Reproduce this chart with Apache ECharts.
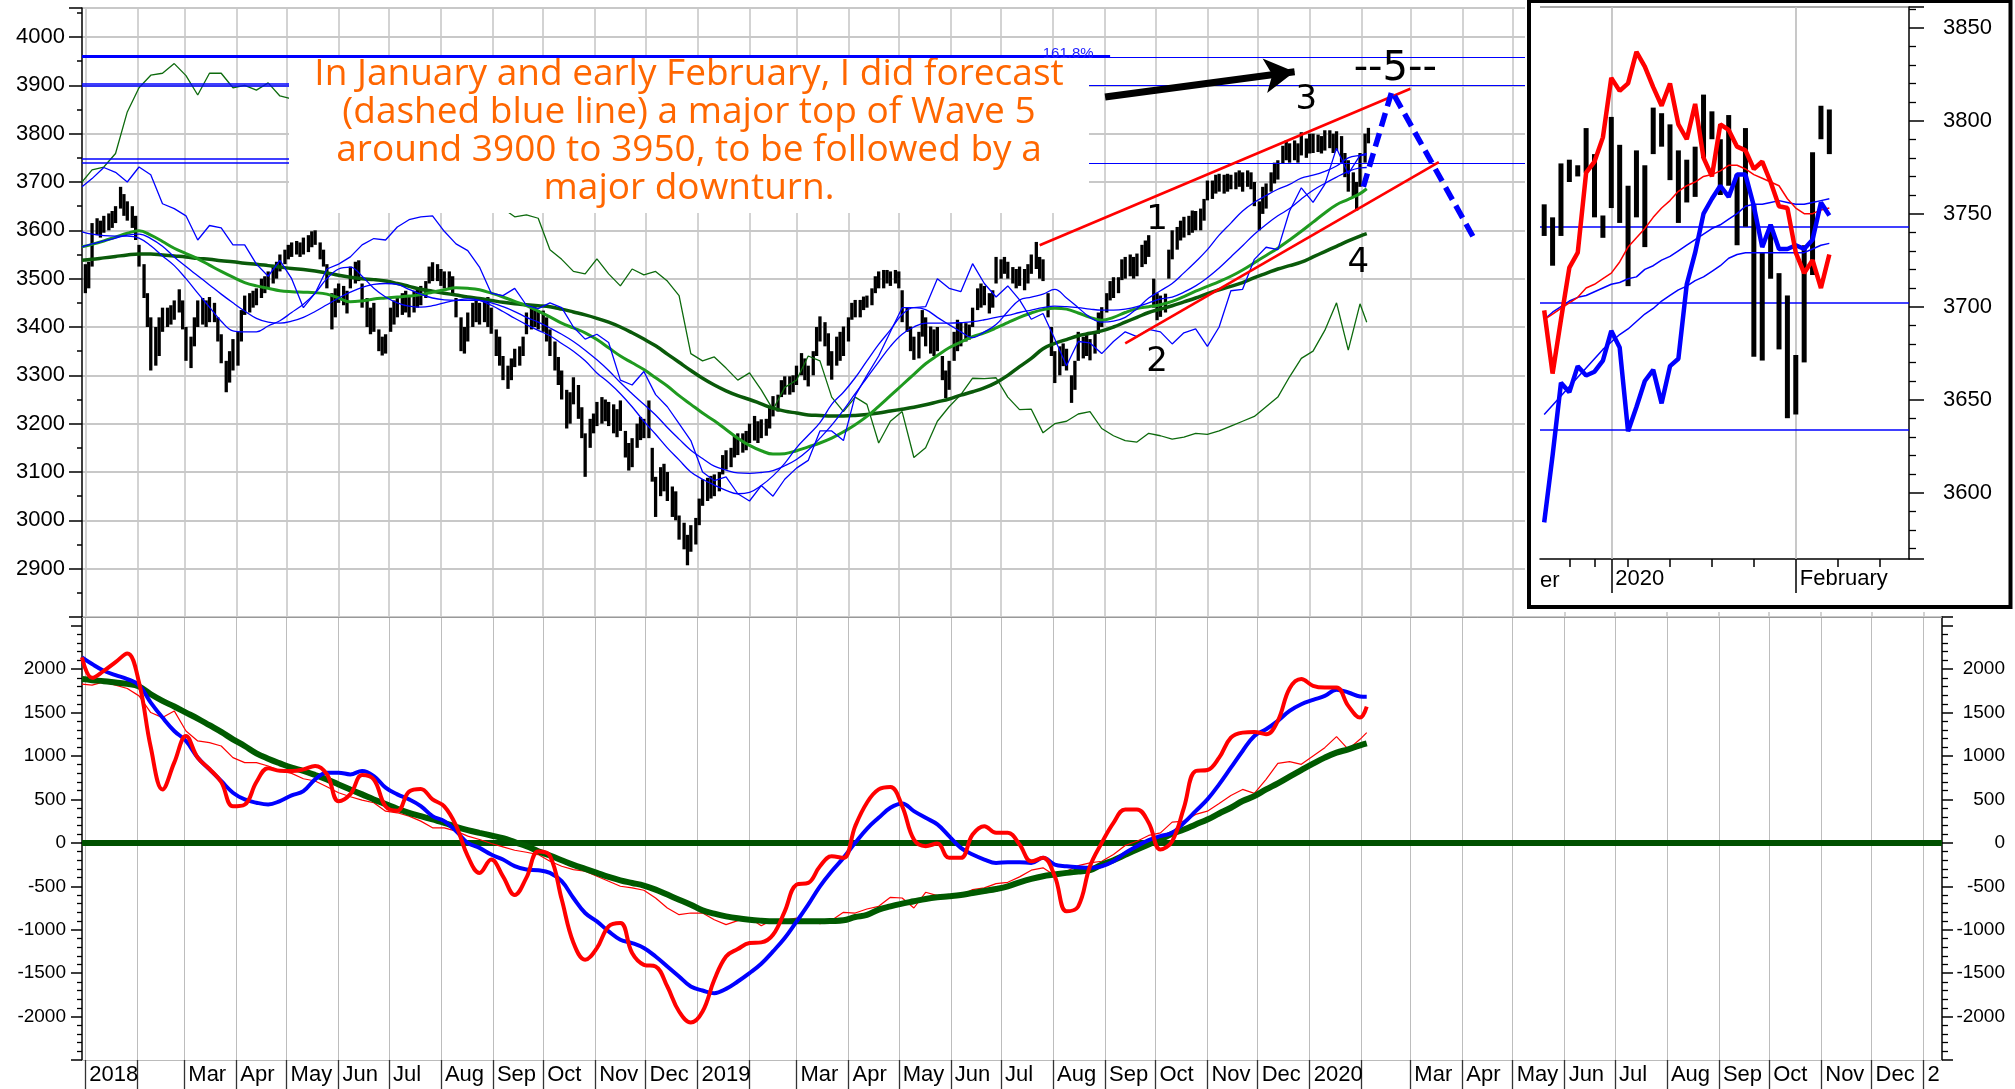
<!DOCTYPE html>
<html><head><meta charset="utf-8">
<script src="https://cdn.jsdelivr.net/npm/echarts/dist/echarts.min.js"></script>
<style>
html,body{margin:0;padding:0;background:#fff;overflow:hidden;}
#main{position:absolute;left:0;top:0;width:2015px;height:1089px;}
#inset{position:absolute;left:1525px;top:0;width:490px;height:612px;background:#fff;}
</style></head><body>
<div id="main"></div><div id="inset"></div>
<script>
// ================= DATA =================
// price bars (Mon/Wed/Fri from 2018-01-01), low / high
const priceLow = [
3470,3480,3525, 3590,3585,3595, 3600,3605,3615, 3645,3630,3620, 3605,3580,3525, 3460,3400,3310, 3320,3340,3390, 3400,3405,3415,
3430,3395,3330, 3315,3360,3400, 3405,3400,3410, 3410,3370,3325, 3265,3285,3310, 3320,3370,3425, 3430,3440,3445, 3460,3470,3480,
3490,3500,3515, 3530,3540,3545, 3550,3545,3550, 3555,3565,3570, 3540,3525,3480, 3395,3420,3450, 3445,3428,3480, 3490,3495,3440,
3400,3385,3390, 3350,3341,3345, 3390,3405,3420, 3425,3430,3420, 3430,3440,3445, 3460,3490,3495, 3495,3485,3480, 3480,3470,3420,
3350,3345,3370, 3400,3410,3405, 3410,3400,3386, 3340,3320,3290, 3272,3290,3317, 3320,3340,3385, 3395,3400,3395, 3390,3370,3340,
3310,3280,3250, 3190,3200,3240, 3210,3170,3090, 3150,3180,3195, 3200,3205,3195, 3180,3172,3185, 3130,3103,3110, 3150,3166,3170,
3170,3080,3007, 3050,3060,3040, 3007,3000,2960, 2940,2907,2935, 2950,2990,3030, 3040,3045,3050, 3060,3095,3105, 3110,3130,3135,
3140,3145,3160, 3165,3160,3170, 3175,3190,3215, 3225,3255,3260, 3260,3265,3280, 3300,3290,3277, 3300,3340,3370, 3360,3320,3291,
3320,3330,3340, 3370,3415,3420, 3420,3435,3440, 3445,3470,3480, 3480,3490,3485, 3490,3480,3410, 3390,3350,3332, 3335,3380,3360,
3345,3340,3350, 3290,3253,3270, 3330,3350,3360, 3370,3374,3400, 3435,3440,3445, 3428,3440,3490, 3500,3510,3500, 3490,3480,3485,
3476,3490,3510, 3520,3500,3495, 3420,3340,3284, 3300,3319,3310, 3243,3270,3330, 3335,3340,3331, 3345,3386,3400, 3430,3455,3460,
3470,3497,3500, 3505,3500,3505, 3524,3530,3545, 3440,3414,3421, 3430,3500,3540, 3560,3579,3585, 3590,3595,3600, 3600,3620,3662,
3665,3676,3680, 3676,3680,3685, 3685,3690,3680, 3690,3685,3650, 3600,3634,3645, 3680,3697,3705, 3738,3745,3740, 3745,3740,3755,
3750,3759,3760, 3762,3759,3765, 3770,3760,3765, 3740,3710,3680, 3669,3641,3690, 3740,3780];
const priceHigh = [
3530,3535,3615, 3625,3620,3630, 3635,3640,3650, 3690,3675,3660, 3650,3630,3570, 3530,3470,3420, 3400,3420,3440, 3440,3445,3455,
3478,3455,3400, 3380,3420,3455, 3460,3455,3462, 3450,3420,3385, 3330,3350,3375, 3390,3435,3465, 3470,3475,3480, 3500,3505,3515,
3525,3535,3550, 3560,3570,3575, 3578,3575,3585, 3590,3598,3600, 3575,3560,3530, 3470,3480,3490, 3485,3475,3525, 3535,3538,3490,
3460,3440,3450, 3395,3380,3385, 3440,3455,3460, 3470,3475,3465, 3475,3480,3485, 3495,3525,3534, 3530,3520,3515, 3515,3505,3460,
3420,3400,3430, 3450,3455,3450, 3460,3462,3440, 3395,3380,3340, 3320,3335,3355, 3360,3380,3430, 3440,3441,3435, 3434,3420,3395,
3370,3338,3310, 3270,3265,3296, 3280,3234,3180, 3210,3221,3245, 3255,3250,3245, 3240,3230,3248, 3185,3160,3170, 3200,3214,3210,
3248,3150,3090, 3110,3117,3100, 3070,3060,3010, 2995,2970,2990, 3005,3045,3085, 3088,3092,3095, 3100,3135,3145, 3150,3175,3180,
3180,3185,3200, 3216,3205,3209, 3210,3235,3257, 3260,3290,3298, 3298,3300,3320, 3346,3335,3320, 3350,3400,3422, 3410,3387,3350,
3380,3390,3401, 3420,3450,3456, 3456,3463,3465, 3480,3505,3515, 3518,3518,3515, 3518,3515,3476, 3440,3401,3380, 3390,3435,3420,
3401,3395,3400, 3340,3310,3330, 3390,3415,3410, 3408,3405,3440, 3480,3490,3485, 3470,3476,3545, 3540,3545,3535, 3524,3520,3525,
3520,3530,3550, 3576,3545,3540, 3470,3400,3350, 3360,3366,3355, 3300,3330,3390, 3380,3385,3375, 3390,3430,3441, 3470,3495,3503,
3503,3540,3545, 3550,3545,3552, 3570,3579,3590, 3500,3470,3465, 3469,3560,3600, 3607,3620,3628, 3630,3641,3640, 3645,3665,3703,
3703,3715,3717, 3715,3717,3715, 3720,3724,3720, 3724,3720,3700, 3660,3690,3697, 3720,3740,3745, 3775,3786,3780, 3786,3780,3803,
3790,3800,3800, 3798,3795,3807, 3807,3800,3805, 3795,3760,3745, 3720,3700,3760, 3800,3812];

// weekly line values: 2017-12-30, every Friday 2018-01-05 .. 2020-01-31, 2020-02-04
const ma200 = [3538,3540,3543,3546,3549,3551,3551,3549,3547,3545, 3542,3540,3537,3535,3532,3530,3527,3524,3521,3519,
3516,3512,3507,3503,3500,3498,3495,3490,3484,3478, 3474,3470,3466,3462,3459,3455,3451,3448,3446,3444,
3442,3437,3431,3425,3418,3410,3400,3388,3375,3361, 3344,3327,3310,3294,3280,3268,3258,3250,3241,3232,
3226,3222,3218,3217,3216,3216,3217,3219,3222,3226, 3230,3234,3239,3245,3251,3259,3266,3274,3285,3300,
3318,3335,3355,3366,3374,3382,3387,3392,3400,3410, 3420,3430,3437,3444,3452,3460,3469,3477,3484,3492,
3502,3511,3520,3527,3534,3545,3556,3567,3578,3588,3593];
const ma100 = [3566,3571,3578,3586,3594,3599,3590,3577,3563,3552, 3541,3528,3515,3503,3492,3485,3480,3475,3473,3472,
3471,3468,3460,3452,3454,3458,3460,3462,3464,3467, 3472,3477,3481,3480,3477,3470,3462,3453,3444,3433,
3421,3408,3398,3388,3374,3357,3340,3326,3312,3295, 3278,3258,3240,3222,3206,3188,3170,3155,3144,3137,
3138,3144,3152,3160,3170,3183,3198,3215,3236,3258, 3280,3302,3324,3341,3357,3369,3380,3388,3398,3409,
3420,3429,3436,3439,3437,3429,3420,3414,3420,3430, 3438,3442,3446,3453,3463,3474,3484,3494,3505,3518,
3533,3548,3563,3580,3598,3617,3636,3653,3664,3676,3686];
const maFast = [3597,3592,3589,3588,3588,3584,3568,3547,3527,3500, 3470,3441,3412,3392,3390,3390,3402,3413,3430,3447,
3470,3500,3520,3524,3505,3480,3462,3450,3443,3441, 3444,3450,3455,3458,3455,3445,3432,3418,3405,3393,
3382,3366,3350,3330,3305,3285,3262,3235,3205,3178, 3150,3125,3100,3085,3073,3062,3055,3058,3072,3092,
3118,3150,3176,3202,3240,3265,3295,3330,3364,3394, 3426,3440,3436,3420,3405,3390,3378,3390,3405,3432,
3456,3462,3468,3478,3460,3440,3420,3410,3412,3420, 3438,3460,3475,3490,3512,3535,3560,3590,3615,3640,
3658,3672,3685,3695,3708,3714,3722,3733,3750,3755,3756];
const maSlow = [3566,3572,3578,3584,3590,3592,3583,3567,3545,3525, 3506,3487,3468,3450,3433,3418,3410,3408,3412,3420,
3432,3446,3460,3472,3482,3488,3490,3488,3478,3468, 3460,3456,3455,3455,3455,3450,3442,3432,3420,3410,
3398,3385,3370,3352,3332,3310,3285,3262,3240,3218, 3192,3168,3145,3128,3112,3104,3098,3097,3099,3103,
3113,3126,3145,3170,3197,3228,3262,3295,3328,3360, 3385,3400,3408,3408,3408,3409,3411,3415,3420,3424,
3430,3435,3440,3443,3442,3440,3437,3435,3435,3437, 3442,3450,3458,3462,3472,3485,3502,3522,3545,3568,
3592,3612,3630,3645,3665,3683,3697,3710,3722,3729,3730];
const bandLine = [3690,3707,3730,3720,3700,3731,3715,3655,3645,3630, 3580,3610,3605,3570,3570,3530,3505,3538,3500,3440,
3470,3520,3530,3545,3570,3583,3580,3607,3622,3628, 3630,3598,3572,3558,3524,3470,3465,3480,3445,3438,
3450,3440,3400,3375,3385,3368,3290,3280,3308,3260, 3235,3200,3165,3100,3082,3090,3055,3040,3072,3050,
3085,3108,3124,3185,3185,3165,3258,3300,3340,3390, 3440,3440,3442,3500,3480,3473,3531,3490,3462,3485,
3456,3416,3428,3375,3320,3370,3367,3345,3370,3390, 3380,3395,3390,3365,3388,3396,3360,3400,3475,3478,
3540,3565,3560,3640,3688,3658,3695,3770,3717,3755,3759];
const leadLine = [3700,3725,3731,3759,3845,3895,3921,3925,3945,3920, 3880,3925,3925,3895,3900,3890,3905,3878,3872,null,
null,null,null,null,null,null,null,null,null,null, null,null,null,null,null,null,3645,3628,3632,3625,
3560,3540,3515,3510,3541,3510,3485,3520,3508,3515, 3495,3465,3345,3330,3338,3315,3290,3305,3270,3229,
3275,3290,3340,3330,3255,3225,3255,3240,3160,3205, 3225,3130,3150,3205,3235,3260,3294,3293,3295,3255,
3229,3230,3181,3200,3205,3220,3225,3190,3175,3165, 3162,3180,3175,3168,3172,3180,3178,3185,3195,3205,
3215,3235,3255,3297,3335,3350,3393,3450,3352,3448,3410];

// oscillator panel (same weekly dates)
const oscRed = [2135,1900,1980,2080,2180,1846,1100,615,923,1231, 980,850,700,420,440,700,860,830,827,846,
885,790,480,560,780,730,420,370,590,620, 500,420,200,-154,-346,-192,-385,-600,-400,-100,
-150,-650,-1150,-1346,-1211,-961,-923,-1269,-1404,-1423, -1654,-1942,-2069,-1942,-1577,-1308,-1223,-1154,-1146,-1058,
-788,-481,-461,-269,-154,-173,192,462,615,642, 423,38,-38,-8,-173,-173,96,192,115,115,
-19,-212,-173,-385,-788,-731,-269,0,231,385, 385,231,-77,19,404,827,838,981,1212,1269,
1277,1250,1404,1777,1885,1808,1788,1788,1577,1442,1569];
const oscBlue = [2135,2058,1981,1931,1885,1815,1615,1442,1288,1173, 981,846,712,577,500,462,442,481,546,596,
731,808,808,788,827,769,635,558,500,423, 308,250,135,0,-58,-135,-192,-269,-308,-315,
-346,-442,-635,-808,-904,-1019,-1115,-1154,-1211,-1308, -1423,-1538,-1654,-1700,-1731,-1681,-1596,-1500,-1392,-1250,
-1096,-908,-712,-500,-327,-173,0,162,288,404, 454,365,288,212,77,-58,-135,-192,-231,-223,
-223,-231,-173,-250,-269,-281,-288,-269,-212,-115, -38,31,77,115,231,365,500,673,865,1058,
1231,1308,1404,1519,1596,1646,1692,1762,1731,1685,1681];
const oscGreen = [1885,1873,1861,1846,1831,1800,1711,1635,1569,1500, 1431,1354,1277,1192,1115,1031,969,915,865,827,
781,731,673,615,558,500,446,392,346,308, 269,231,185,146,115,85,54,8,-38,-96,
-146,-200,-254,-300,-346,-392,-431,-462,-492,-538, -596,-654,-712,-777,-815,-846,-869,-885,-896,-904,
-904,-904,-904,-904,-900,-892,-854,-830,-769,-731, -700,-673,-646,-627,-615,-600,-577,-554,-531,-500,
-454,-415,-385,-365,-346,-331,-315,-250,-200,-138, -77,-19,38,104,154,212,269,338,404,481,
538,615,685,762,838,912,981,1038,1077,1123,1146];
const oscRedThin = [1827,1815,1854,1815,1777,1692,1500,1442,1519,1288, 1173,1154,1115,981,923,923,885,827,800,738,
712,646,577,531,492,462,365,346,308,250, 173,173,135,77,38,-8,-46,-85,-108,-135,
-212,-269,-308,-327,-385,-442,-500,-519,-546,-635, -750,-827,-808,-808,-885,-942,-896,-865,-954,-885,
-892,-865,-904,-931,-892,-800,-808,-762,-731,-627, -635,-750,-569,-608,-596,-608,-538,-519,-469,-454,
-392,-315,-288,-377,-327,-262,-231,-212,-135,-31, 19,85,115,238,250,327,365,454,546,615,
569,731,915,935,904,1000,1096,1223,1077,1192,1269];

// annotation levels & points
const fibLeft = [3904, 3900, 3748, 3739];
const fibRight = [3958, 3901, 3739];
const fibTop = 3961;
const upperChannel = [['2019-07-24', 3569], ['2020-03-01', 3893]];
const lowerChannel = [['2019-09-13', 3366], ['2020-03-18', 3741]];
const forecastPath = [['2020-02-02', 3690], ['2020-02-19', 3888], ['2020-04-09', 3577]];
const arrowPath = [['2019-09-01', 3876], ['2019-12-23', 3928]];
const waveLabels = [['1', '2019-10-02', 3622], ['2', '2019-10-02', 3327], ['3', '2019-12-30', 3869], ['4', '2020-01-30', 3533]];
const wave5 = ['--5--', '2020-02-21', 3932];
const monthNames = ['', '', 'Mar', 'Apr', 'May', 'Jun', 'Jul', 'Aug', 'Sep', 'Oct', 'Nov', 'Dec'];
const yearNames = {'2018': '2018', '2019': '2019', '2020': '2020', '2021': '2'};
const noteText = 'In January and early February, I did forecast\n(dashed blue line) a major top of Wave 5\naround 3900 to 3950, to be followed by a\nmajor downturn.';

// inset (daily, Dec 19 2019 .. Feb 6 2020)
const insetLow = [3738,3722,3738,3767,3770,3772,3748,3737,3753,3745,3711,3748,3732,3782,3786,3768,3745,3756,3759,3780,3790,3760,3765,3733,3743,3673,3671,3715,3677,3640,3642,3670,3717,3790,3782];
const insetHigh = [3755,3748,3777,3779,3776,3796,3782,3749,3802,3787,3765,3784,3776,3807,3804,3798,3784,3779,3786,3814,3805,3790,3803,3771,3796,3755,3729,3744,3718,3706,3674,3733,3783,3808,3806];
const insetRedThick = [3698,3664,3693,3721,3729,3772,3778,3791,3823,3816,3820,3837,3829,3818,3808,3820,3798,3790,3809,3780,3770,3798,3795,3786,3784,3774,3778,3767,3754,3753,3729,3718,3725,3710,3728];
const insetBlueThick = [3584,3620,3659,3654,3668,3663,3665,3671,3687,3678,3633,3646,3660,3666,3648,3668,3672,3712,3729,3750,3758,3765,3759,3771,3771,3754,3732,3744,3731,3731,3733,3731,3736,3756,3749];
const insetRedThin = [3693,3696,3699,3702,3705,3710,3712,3715,3718,3724,3732,3737,3742,3748,3753,3757,3762,3765,3767,3770,3771,3773,3776,3776,3774,3771,3769,3767,3765,3758,3753,3750,3750,3752,3753];
const insetBlueUpper = [3693,3697,3700,3703,3705,3706,3708,3710,3712,3713,3715,3716,3720,3722,3725,3727,3730,3733,3736,3739,3742,3744,3747,3750,3754,3755,3755,3756,3757,3756,3755,3755,3756,3757,3758];
const insetBlueLower = [3642,3647,3652,3657,3662,3667,3672,3677,3681,3685,3688,3692,3696,3699,3703,3706,3709,3711,3714,3716,3719,3722,3726,3728,3729,3729,3729,3729,3729,3729,3729,3729,3731,3733,3734];
const insetLevels = [3743, 3702, 3634];
const insetSlotCount = 44;
const insetWeekTicks = [3, 6, 10, 15, 20, 25, 30, 35, 40];
const insetMonthTicks = [8, 30];
const insetMonthLabels = {8: '2020', 30: 'February'};
const insetYLabels = [3600, 3650, 3700, 3750, 3800, 3850];

// ================= HELPERS =================
const START = Date.UTC(2017, 11, 30), DAY = 86400000;
function X(s) { const p = s.split('-').map(Number); return Math.round((Date.UTC(p[0], p[1] - 1, p[2]) - START) / DAY); }
function dateOf(i) { return new Date(START + i * DAY).toISOString().slice(0, 10); }
const LAST = X('2021-01-12');
const axisDays = []; for (let i = 0; i <= LAST; i++) axisDays.push(dateOf(i));
const isMS = (i, v) => v.slice(8) === '01';
function monthLabel(v) { const m = +v.slice(5, 7); if (v.slice(8) !== '01') return ''; return m === 1 ? yearNames[v.slice(0, 4)] : monthNames[m - 1]; }

const wkIdx = [0]; for (let k = 0; k < 109; k++) wkIdx.push(X('2018-01-05') + 7 * k); wkIdx.push(X('2020-02-04'));
const wk = arr => arr.map((v, i) => [wkIdx[i], v]);
const barData = priceLow.map((lo, n) => { const w = Math.floor(n / 3), o = (n % 3) * 2; return [X('2018-01-01') + 7 * w + o, lo, priceHigh[n]]; });
const pts = arr => arr.map(p => [X(p[0]), p[1]]);

const BLUE = '#0000ff', RED = '#ff0000', FONT = 'Liberation Sans, Arial, sans-serif';

function lineS(data, color, width, xi, yi, smooth, z) {
  return {type: 'line', xAxisIndex: xi, yAxisIndex: yi, data: data, showSymbol: false, symbol: 'none', silent: true,
    smooth: smooth, connectNulls: false, z: z || 3, lineStyle: {color: color, width: width}, animation: false};
}
function seg(x1, v1, x2, v2, style) { return [{coord: [X(x1), v1], lineStyle: style}, {coord: [X(x2), v2]}]; }

// ================= MAIN CHART =================
const main = echarts.init(document.getElementById('main'), null, {renderer: 'canvas', width: 2015, height: 1089});
const opt = {
  animation: false,
  textStyle: {fontFamily: FONT},
  grid: [
    {left: 82, top: 8, width: 1860, height: 609},
    {left: 82, top: 617, width: 1860, height: 443}
  ],
  xAxis: [
    {gridIndex: 0, type: 'category', data: axisDays, boundaryGap: false,
     axisLine: {show: true, onZero: false, lineStyle: {color: '#999', width: 1}}, axisTick: {show: false}, axisLabel: {show: false},
     splitLine: {show: true, interval: isMS, lineStyle: {color: '#c8c8c8', width: 1.6}}},
    {gridIndex: 1, type: 'category', data: axisDays, boundaryGap: false,
     axisLine: {show: true, onZero: false, lineStyle: {color: '#bbb', width: 1}},
     axisTick: {show: true, interval: isMS, length: 29, lineStyle: {color: '#333', width: 1.3}},
     axisLabel: {show: true, interval: isMS, formatter: monthLabel, align: 'left', padding: [0, 0, 0, 4], margin: 4,
                 fontSize: 22, color: '#000', fontFamily: FONT},
     splitLine: {show: true, interval: isMS, lineStyle: {color: '#bdbdbd', width: 1}}}
  ],
  yAxis: [
    {gridIndex: 0, type: 'value', min: 2800, max: 4060, interval: 100, position: 'left',
     axisLine: {show: true, lineStyle: {color: '#000', width: 1.5}},
     axisTick: {show: true, length: 13, lineStyle: {color: '#000', width: 1.5}},
     minorTick: {show: true, splitNumber: 2, length: 5, lineStyle: {color: '#000', width: 1.5}},
     axisLabel: {fontSize: 22, color: '#000', margin: 17, fontFamily: FONT,
                 formatter: v => (v >= 2900 && v <= 4000 && v % 100 === 0) ? String(v) : ''},
     splitLine: {show: true, lineStyle: {color: '#c8c8c8', width: 2}}},
    {gridIndex: 1, type: 'value', min: -2500, max: 2600, interval: 500, position: 'left',
     axisLine: {show: true, lineStyle: {color: '#000', width: 1.5}},
     axisTick: {show: true, length: 11, lineStyle: {color: '#000', width: 1.5}},
     minorTick: {show: true, splitNumber: 5, length: 5, lineStyle: {color: '#000', width: 1.3}},
     axisLabel: {fontSize: 19, color: '#000', margin: 16, fontFamily: FONT,
                 formatter: v => (Math.abs(v) <= 2000 && v % 500 === 0) ? String(v) : ''},
     splitLine: {show: false}},
    {gridIndex: 1, type: 'value', min: -2500, max: 2600, interval: 500, position: 'right',
     axisLine: {show: true, lineStyle: {color: '#000', width: 1.5}},
     axisTick: {show: true, length: 11, lineStyle: {color: '#000', width: 1.5}},
     minorTick: {show: true, splitNumber: 5, length: 6, lineStyle: {color: '#000', width: 1.3}},
     axisLabel: {fontSize: 19, color: '#000', margin: 63, align: 'right', fontFamily: FONT,
                 formatter: v => (Math.abs(v) <= 2000 && v % 500 === 0) ? String(v) : ''},
     splitLine: {show: false}}
  ],
  graphic: {elements: [
    {type: 'rect', z: 50, silent: true, shape: {x: 289, y: 57, width: 800, height: 156}, style: {fill: '#fff'}},
    {type: 'text', z: 51, silent: true, x: 689, y: 131,
     style: {text: noteText, fill: '#ff6600', font: '37px "Open Sans"', align: 'center', verticalAlign: 'middle',
             textAlign: 'center', textVerticalAlign: 'middle', lineHeight: 38}}
  ]},
  series: [
    // price bars
    {type: 'custom', xAxisIndex: 0, yAxisIndex: 0, data: barData, encode: {x: 0, y: [1, 2]}, silent: true, z: 2,
     renderItem: function (params, api) {
       const a = api.coord([api.value(0), api.value(1)]);
       const b = api.coord([api.value(0), api.value(2)]);
       return {type: 'line', shape: {x1: a[0], y1: a[1], x2: b[0], y2: b[1]}, style: {stroke: '#000', lineWidth: 3.3}};
     }},
    lineS(wk(leadLine), '#0d6a0d', 1.3, 0, 0, false),
    lineS(wk(ma200), '#0a5a0a', 3.5, 0, 0, 0.4),
    lineS(wk(ma100), '#1f9a1f', 3, 0, 0, 0.4),
    lineS(wk(maSlow), BLUE, 1.3, 0, 0, 0.4),
    lineS(wk(maFast), BLUE, 1.3, 0, 0, 0.4),
    lineS(wk(bandLine), BLUE, 1.3, 0, 0, false),
    // fib levels (under the note box)
    {type: 'line', xAxisIndex: 0, yAxisIndex: 0, data: [], silent: true, z: 2,
     markLine: {silent: true, z: 4, animation: false, symbol: ['none', 'none'], label: {show: false},
       data: [
         seg('2017-12-30', fibLeft[0], '2018-10-01', fibLeft[0], {color: BLUE, width: 1.7, type: 'solid'}),
         seg('2017-12-30', fibLeft[1], '2018-10-01', fibLeft[1], {color: BLUE, width: 1.7, type: 'solid'}),
         seg('2017-12-30', fibLeft[2], '2018-10-01', fibLeft[2], {color: BLUE, width: 1.5, type: 'solid'}),
         seg('2017-12-30', fibLeft[3], '2018-10-01', fibLeft[3], {color: BLUE, width: 1.5, type: 'solid'}),
         seg('2019-08-20', fibRight[0], '2021-01-12', fibRight[0], {color: BLUE, width: 1.2, type: 'solid'}),
         seg('2018-10-01', fibRight[1], '2021-01-12', fibRight[1], {color: BLUE, width: 1.2, type: 'solid'}),
         seg('2018-10-01', fibRight[2], '2021-01-12', fibRight[2], {color: BLUE, width: 1.2, type: 'solid'})
       ]}},
    // top fib level and label, above the note box
    {type: 'line', xAxisIndex: 0, yAxisIndex: 0, data: [], silent: true, z: 60,
     markLine: {silent: true, z: 60, animation: false, symbol: ['none', 'none'], label: {show: false},
       data: [seg('2017-12-30', fibTop, '2019-09-04', fibTop, {color: BLUE, width: 2.8, type: 'solid'})]},
     markPoint: {silent: true, z: 61, animation: false, symbol: 'circle', symbolSize: 1, itemStyle: {color: 'rgba(0,0,0,0)'},
       data: [{coord: [X('2019-08-10'), 3966], value: '161.8%',
               label: {show: true, position: 'inside', formatter: '161.8%', color: '#2222ff', fontSize: 15, fontFamily: FONT}}]}},
    // channel lines
    {type: 'line', xAxisIndex: 0, yAxisIndex: 0, data: [], silent: true, z: 5,
     markLine: {silent: true, z: 5, animation: false, symbol: ['none', 'none'], label: {show: false},
       data: [
         seg(upperChannel[0][0], upperChannel[0][1], upperChannel[1][0], upperChannel[1][1], {color: RED, width: 2.6, type: 'solid'}),
         seg(lowerChannel[0][0], lowerChannel[0][1], lowerChannel[1][0], lowerChannel[1][1], {color: RED, width: 2.6, type: 'solid'})
       ]}},
    // arrow
    {type: 'line', xAxisIndex: 0, yAxisIndex: 0, data: [], silent: true, z: 6,
     markLine: {silent: true, z: 6, animation: false, symbol: ['none', 'arrow'], symbolSize: [26, 30], label: {show: false},
       data: [seg(arrowPath[0][0], arrowPath[0][1], arrowPath[1][0], arrowPath[1][1], {color: '#000', width: 7, type: 'solid'})]}},
    // forecast
    {type: 'line', xAxisIndex: 0, yAxisIndex: 0, data: pts(forecastPath), showSymbol: false, symbol: 'none', silent: true, z: 6,
     lineStyle: {color: BLUE, width: 5.5, type: [14, 7], cap: 'butt'}},
    // wave labels
    {type: 'line', xAxisIndex: 0, yAxisIndex: 0, data: [], silent: true, z: 7,
     markPoint: {silent: true, z: 7, animation: false, symbol: 'circle', symbolSize: 1, itemStyle: {color: 'rgba(0,0,0,0)'},
       data: waveLabels.map(w => ({coord: [X(w[1]), w[2]], value: w[0],
               label: {show: true, position: 'inside', formatter: w[0], color: '#000', fontSize: 34, fontFamily: 'DejaVu Sans'}}))
         .concat([{coord: [X(wave5[1]), wave5[2]], value: wave5[0],
               label: {show: true, position: 'inside', formatter: wave5[0], color: '#000', fontSize: 40, fontFamily: 'DejaVu Sans'}}])}},
    // oscillator panel
    {type: 'line', xAxisIndex: 1, yAxisIndex: 1, data: [], silent: true, z: 1,
     markLine: {silent: true, z: 1, animation: false, symbol: ['none', 'none'], label: {show: false},
       data: [{yAxis: 0, lineStyle: {color: '#005000', width: 6, type: 'solid'}}]}},
    lineS(wk(oscRedThin), RED, 1.2, 1, 1, false, 3),
    lineS(wk(oscGreen), '#005a00', 6, 1, 1, 0.4, 4),
    lineS(wk(oscBlue), BLUE, 4, 1, 1, 0.4, 5),
    lineS(wk(oscRed), RED, 4, 1, 1, 0.4, 6)
  ]
};
main.setOption(opt);

// ================= INSET CHART =================
const inset = echarts.init(document.getElementById('inset'), null, {renderer: 'canvas', width: 490, height: 612});
const slots = []; for (let i = 0; i < insetSlotCount; i++) slots.push('s' + i);
const idxData = arr => arr.map((v, i) => [i, v]);
const insetOpt = {
  animation: false,
  textStyle: {fontFamily: FONT},
  grid: {left: 15, top: 7, width: 369, height: 552},
  xAxis: [
    {type: 'category', data: slots, boundaryGap: true, position: 'bottom',
     axisLine: {show: true, onZero: false, lineStyle: {color: '#000', width: 1.5}},
     axisTick: {show: true, alignWithLabel: true, interval: (i) => insetWeekTicks.indexOf(i) >= 0, length: 8, lineStyle: {color: '#000', width: 1.5}},
     axisLabel: {show: false}, splitLine: {show: false}},
    {type: 'category', data: slots, boundaryGap: true, position: 'bottom',
     axisLine: {show: false, onZero: false},
     axisTick: {show: true, alignWithLabel: true, interval: (i) => insetMonthTicks.indexOf(i) >= 0, length: 34, lineStyle: {color: '#000', width: 1.5}},
     axisLabel: {show: true, interval: (i) => insetMonthTicks.indexOf(i) >= 0, formatter: (v, i) => insetMonthLabels[+v.slice(1)] || '',
                 align: 'left', padding: [0, 0, 0, 4], margin: 9, fontSize: 22, color: '#000', fontFamily: FONT},
     splitLine: {show: false}}
  ],
  yAxis: {type: 'value', position: 'right', min: 3564.3, max: 3861.1, minInterval: 50, maxInterval: 50,
    axisLine: {show: true, lineStyle: {color: '#000', width: 1.5}},
    axisTick: {show: true, length: 15, lineStyle: {color: '#000', width: 1.5}},
    minorTick: {show: true, splitNumber: 5, length: 7, lineStyle: {color: '#000', width: 1.3}},
    axisLabel: {fontSize: 22, color: '#000', margin: 34, fontFamily: FONT,
                formatter: v => insetYLabels.indexOf(Math.round(v * 10) / 10) >= 0 ? String(v) : ''},
    splitLine: {show: false}},
  graphic: [
    {type: 'rect', silent: true, shape: {x: 4, y: 1, width: 481.5, height: 606}, style: {fill: 'none', stroke: '#000', lineWidth: 4}},
    {type: 'line', silent: true, shape: {x1: 15, y1: 7, x2: 384, y2: 7}, style: {stroke: '#888', lineWidth: 1.5}},
    {type: 'text', silent: true, x: 15, y: 581, style: {text: 'er', font: '22px ' + FONT, fill: '#000', verticalAlign: 'middle', textVerticalAlign: 'middle'}}
  ],
  series: [
    {type: 'line', data: [], silent: true, z: 1,
     markLine: {silent: true, z: 1, animation: false, symbol: ['none', 'none'], label: {show: false},
       data: insetMonthTicks.map(i => ({xAxis: 's' + i, lineStyle: {color: '#bbb', width: 1.6, type: 'solid'}}))
         .concat(insetLevels.map(v => ({yAxis: v, lineStyle: {color: BLUE, width: 1.5, type: 'solid'}})))}},
    {type: 'custom', data: insetLow.map((lo, i) => [i, lo, insetHigh[i]]), encode: {x: 0, y: [1, 2]}, silent: true, z: 2,
     renderItem: function (params, api) {
       const a = api.coord([api.value(0), api.value(1)]);
       const b = api.coord([api.value(0), api.value(2)]);
       return {type: 'line', shape: {x1: a[0], y1: a[1], x2: b[0], y2: b[1]}, style: {stroke: '#000', lineWidth: 5}};
     }},
    lineS(idxData(insetBlueLower), BLUE, 1.5, 0, 0, false, 3),
    lineS(idxData(insetBlueUpper), BLUE, 1.5, 0, 0, false, 3),
    lineS(idxData(insetRedThin), RED, 1.5, 0, 0, false, 3),
    lineS(idxData(insetBlueThick), BLUE, 4.5, 0, 0, false, 4),
    lineS(idxData(insetRedThick), RED, 4.5, 0, 0, false, 5)
  ]
};
inset.setOption(insetOpt);
</script></body></html>
